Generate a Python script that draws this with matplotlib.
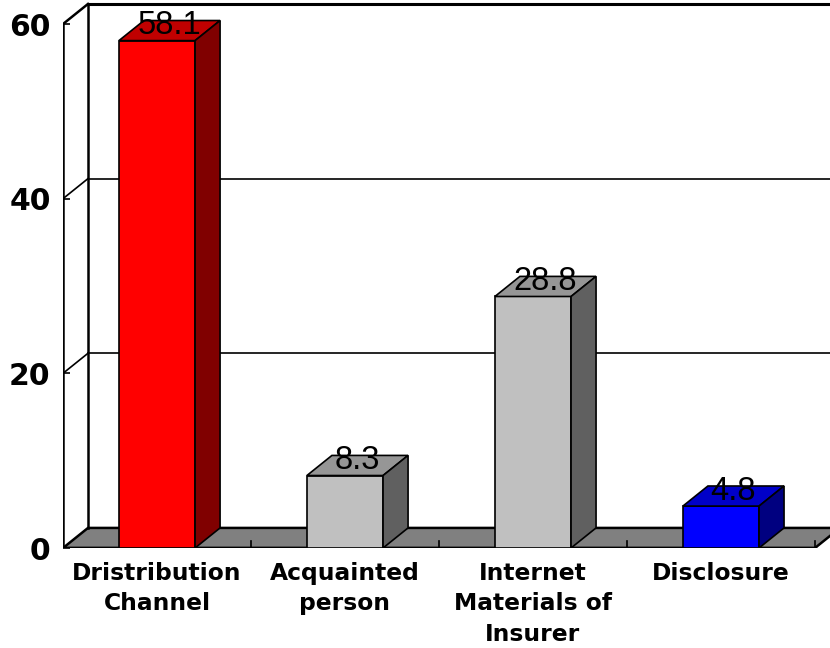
import matplotlib
matplotlib.use('Agg')
from matplotlib import pyplot as plt
from matplotlib.patches import Polygon

categories = ['Dristribution\nChannel', 'Acquainted\nperson', 'Internet\nMaterials of\nInsurer', 'Disclosure']
values = [58.1, 8.3, 28.8, 4.8]
front_colors = ['#ff0000', '#c0c0c0', '#c0c0c0', '#0000ff']
top_colors = ['#c00000', '#969696', '#969696', '#0000c8']
side_colors = ['#800000', '#606060', '#606060', '#000080']
yticks = [0, 20, 40, 60]

# depth of the 3-D box in data units
dx = 0.133
dy = 2.3
bar_w = 0.405
ymax = 60

fig = plt.figure(figsize=(8.3, 6.48), dpi=100)
ax = fig.add_axes([63 / 830, 100 / 648, 767 / 830, 62.5 * 8.733 / 648])
ax.set_xlim(0, 4.08)
ax.set_ylim(0, 62.5)
for s in ax.spines.values():
    s.set_visible(False)

n = len(values)

# floor
floor = Polygon([(0, 0), (n, 0), (n + dx, dy), (dx, dy)], closed=True,
                facecolor='#808080', edgecolor='black', lw=1.8, zorder=1)
ax.add_patch(floor)
ax.plot([0, n], [0, 0], color='black', lw=2.4, zorder=2)
for i in range(1, n + 1):
    ax.plot([i, i], [0, 0.8], color='black', lw=1.2, zorder=2)

# walls and gridlines
ax.plot([0, 0], [0, ymax], color='black', lw=1.8, zorder=2)
ax.plot([dx, dx], [dy, ymax + dy], color='black', lw=1.8, zorder=2)
ax.plot([0, dx], [ymax, ymax + dy], color='black', lw=1.8, zorder=2)
ax.plot([dx, 5], [ymax + dy, ymax + dy], color='black', lw=2.2, zorder=2)
for v in yticks[1:-1]:
    ax.plot([0, dx], [v, v + dy], color='black', lw=1.2, zorder=2)
    ax.plot([dx, 5], [v + dy, v + dy], color='black', lw=1.2, zorder=2)

# bars
for i, v in enumerate(values):
    x0 = i + 0.5 - bar_w / 2
    x1 = x0 + bar_w
    front = Polygon([(x0, 0), (x1, 0), (x1, v), (x0, v)], closed=True,
                    facecolor=front_colors[i], edgecolor='black', lw=1.2, zorder=3)
    top = Polygon([(x0, v), (x1, v), (x1 + dx, v + dy), (x0 + dx, v + dy)], closed=True,
                  facecolor=top_colors[i], edgecolor='black', lw=1.2, zorder=3)
    side = Polygon([(x1, 0), (x1 + dx, dy), (x1 + dx, v + dy), (x1, v)], closed=True,
                   facecolor=side_colors[i], edgecolor='black', lw=1.2, zorder=3)
    for p in (front, top, side):
        ax.add_patch(p)
    ax.text(i + 0.5 + dx / 2, v + 0.7, f'{v:.1f}', ha='center', va='baseline',
            fontsize=23.5, family='Liberation Sans', zorder=4)

ax.set_yticks(yticks)
ax.set_yticklabels([str(t) for t in yticks], fontsize=21.5, fontweight='bold')
ax.tick_params(axis='y', direction='in', length=5, width=1.2, pad=9)

ax.set_xticks([i + 0.5 for i in range(n)])
ax.set_xticklabels(categories, fontsize=16.8, fontweight='bold', linespacing=1.42)
ax.tick_params(axis='x', length=0, pad=10)

fig.savefig('out.png', dpi=100)
